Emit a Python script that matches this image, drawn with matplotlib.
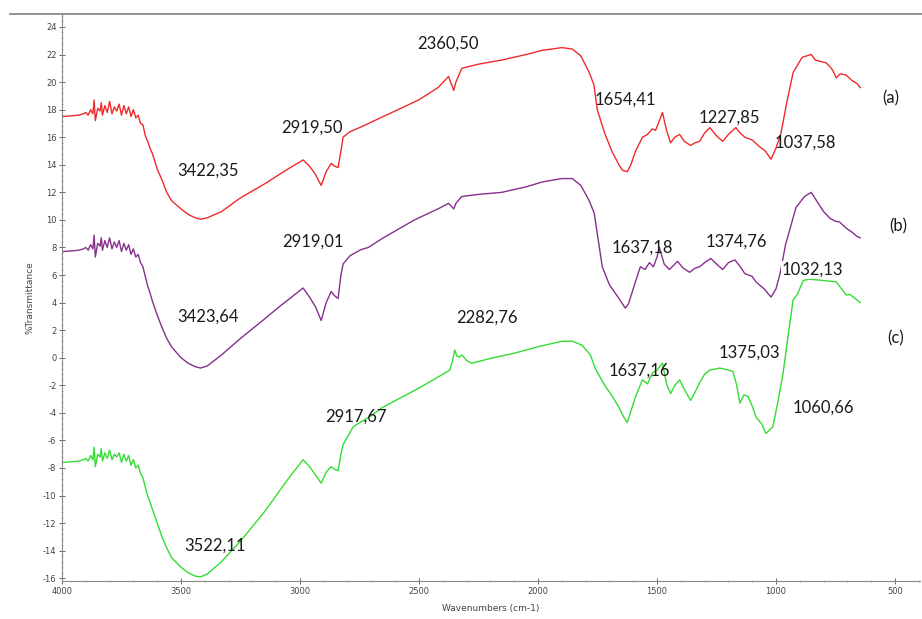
import matplotlib.pyplot as plt
from matplotlib.lines import Line2D
from matplotlib.ticker import MultipleLocator

plt.rcParams["axes.unicode_minus"] = False

# FTIR spectra, wavenumber (cm-1) -> %T
wn_a = [4000, 3960, 3930, 3910, 3900, 3890, 3880, 3870, 3865, 3860, 3850, 3840, 3835, 3830,
        3820, 3810, 3800, 3790, 3780, 3770, 3760, 3750, 3740, 3730, 3720, 3710, 3700, 3690,
        3680, 3670, 3660, 3650, 3640, 3630, 3620, 3600, 3580, 3560, 3540, 3500, 3470, 3440,
        3418, 3390, 3330, 3250, 3150, 3050, 2987, 2960, 2935, 2911, 2890, 2869, 2855, 2840,
        2828, 2819, 2790, 2743, 2650, 2502, 2420, 2376, 2365, 2354, 2345, 2320, 2250, 2152,
        2050, 1983, 1900, 1856, 1820, 1785, 1765, 1751, 1720, 1690, 1660, 1645, 1625, 1610,
        1590, 1561, 1540, 1520, 1506, 1490, 1477, 1460, 1443, 1425, 1405, 1385, 1359, 1340,
        1321, 1300, 1278, 1250, 1224, 1200, 1169, 1150, 1131, 1100, 1068, 1045, 1021, 1000,
        979, 955, 928, 890, 852, 835, 814, 790, 772, 760, 747, 730, 705, 680, 660, 646]
t_a = [17.5, 17.55, 17.6, 17.7, 17.8, 17.6, 18.0, 17.7, 18.7, 17.2, 18.1, 17.9, 18.5, 17.6,
       18.3, 17.8, 18.6, 17.7, 18.2, 17.9, 18.4, 17.6, 18.3, 17.7, 18.2, 17.5, 18.0, 17.4,
       17.6, 17.0, 16.9, 16.1, 15.7, 15.2, 14.8, 13.7, 12.9, 12.0, 11.4, 10.8, 10.4, 10.15,
       10.05, 10.15, 10.6, 11.6, 12.6, 13.7, 14.35, 13.9, 13.3, 12.5, 13.5, 14.1, 13.9, 13.8,
       15.0, 16.0, 16.4, 16.75, 17.5, 18.7, 19.6, 20.4, 19.9, 19.4, 20.0, 21.0, 21.3, 21.6,
       22.0, 22.3, 22.5, 22.4, 21.9, 20.7, 19.8, 18.0, 16.3, 15.0, 14.0, 13.6, 13.5, 14.0,
       15.0, 16.0, 16.2, 16.6, 16.5, 17.2, 17.8, 16.5, 15.6, 16.0, 16.2, 15.7, 15.4, 15.6,
       15.7, 16.3, 16.7, 16.1, 15.7, 16.2, 16.7, 16.3, 16.0, 15.8, 15.3, 15.0, 14.4, 15.2,
       16.3, 18.5, 20.7, 21.8, 22.0, 21.6, 21.5, 21.4, 21.1, 20.8, 20.3, 20.6, 20.5, 20.1, 19.9, 19.6]

wn_b = [4000, 3960, 3930, 3910, 3900, 3890, 3880, 3870, 3865, 3860, 3850, 3840, 3835, 3830,
        3820, 3810, 3800, 3790, 3780, 3770, 3760, 3750, 3740, 3730, 3720, 3710, 3700, 3690,
        3680, 3670, 3660, 3650, 3640, 3630, 3620, 3600, 3580, 3560, 3540, 3500, 3470, 3440,
        3418, 3390, 3330, 3250, 3150, 3080, 3050, 2987, 2960, 2935, 2911, 2890, 2869, 2855,
        2840, 2828, 2819, 2790, 2743, 2713, 2650, 2519, 2420, 2376, 2365, 2354, 2345, 2320,
        2250, 2152, 2050, 1983, 1900, 1856, 1820, 1785, 1764, 1751, 1730, 1700, 1660, 1645,
        1633, 1620, 1600, 1570, 1550, 1532, 1515, 1500, 1490, 1470, 1448, 1430, 1414, 1390,
        1363, 1340, 1321, 1300, 1274, 1250, 1224, 1200, 1173, 1150, 1131, 1100, 1084, 1050,
        1021, 1000, 983, 960, 916, 880, 852, 830, 800, 772, 750, 733, 705, 680, 660, 646]
t_b = [7.7, 7.75, 7.8, 7.9, 8.0, 7.8, 8.2, 7.9, 8.9, 7.3, 8.3, 8.1, 8.7, 7.8,
       8.5, 8.0, 8.7, 7.9, 8.4, 8.0, 8.5, 7.7, 8.3, 7.8, 8.2, 7.5, 7.9, 7.3,
       7.5, 6.9, 6.6, 5.9, 5.2, 4.7, 4.1, 3.1, 2.2, 1.4, 0.8, 0.0, -0.4, -0.65,
       -0.75, -0.6, 0.2, 1.4, 2.8, 3.8, 4.2, 5.06, 4.4, 3.7, 2.7, 4.0, 4.8, 4.5,
       4.3, 6.0, 6.8, 7.4, 7.85, 8.0, 8.7, 10.0, 10.8, 11.2, 11.0, 10.8, 11.2, 11.7,
       11.85, 12.0, 12.4, 12.75, 13.0, 13.0, 12.5, 11.4, 10.5, 9.0, 6.6, 5.3, 4.3, 3.9,
       3.6, 3.9, 5.0, 6.6, 6.4, 6.9, 6.6, 7.3, 8.0, 6.8, 6.4, 6.7, 7.0, 6.5,
       6.2, 6.5, 6.6, 6.9, 7.2, 6.8, 6.4, 6.9, 7.1, 6.6, 6.1, 5.9, 5.5, 5.0,
       4.4, 5.0, 6.1, 8.2, 10.9, 11.7, 12.0, 11.4, 10.6, 10.1, 9.9, 9.85, 9.4, 9.1, 8.8, 8.7]

wn_c = [4000, 3960, 3930, 3910, 3900, 3890, 3880, 3870, 3865, 3860, 3850, 3840, 3835, 3830,
        3820, 3810, 3800, 3790, 3780, 3770, 3760, 3750, 3740, 3730, 3720, 3710, 3700, 3690,
        3680, 3670, 3660, 3650, 3640, 3630, 3620, 3600, 3580, 3560, 3540, 3500, 3470, 3440,
        3418, 3390, 3330, 3250, 3150, 3050, 2987, 2960, 2935, 2911, 2890, 2869, 2855, 2840,
        2828, 2819, 2776, 2700, 2658, 2500, 2420, 2371, 2360, 2350, 2340, 2329, 2320, 2300,
        2279, 2200, 2097, 2000, 1899, 1856, 1814, 1780, 1759, 1720, 1688, 1660, 1640, 1625,
        1610, 1590, 1561, 1540, 1519, 1500, 1477, 1460, 1443, 1425, 1405, 1385, 1359, 1340,
        1321, 1300, 1278, 1236, 1200, 1181, 1165, 1152, 1135, 1118, 1100, 1084, 1060, 1042,
        1025, 1013, 990, 970, 950, 928, 910, 886, 860, 800, 747, 725, 705, 690, 675, 660, 646]
t_c = [-7.6, -7.55, -7.5, -7.4, -7.3, -7.5, -7.1, -7.4, -6.5, -7.9, -7.0, -7.2, -6.6, -7.5,
       -6.9, -7.3, -6.7, -7.4, -7.0, -7.2, -6.9, -7.6, -7.0, -7.5, -7.1, -7.8, -7.4, -8.0,
       -7.8, -8.4, -8.7, -9.4, -10.0, -10.5, -11.0, -12.0, -13.0, -13.8, -14.5, -15.2, -15.6, -15.85,
       -15.9, -15.7, -14.8, -13.3, -11.2, -8.8, -7.4, -7.9, -8.5, -9.1, -8.3, -7.9, -8.1, -8.2,
       -7.0, -6.3, -5.0, -4.2, -3.65, -2.2, -1.4, -0.9, -0.3, 0.56, 0.1, 0.05, 0.2, -0.2,
       -0.4, -0.05, 0.34, 0.8, 1.2, 1.2, 0.9, 0.2, -0.8, -2.0, -2.8, -3.6, -4.3, -4.7,
       -3.9, -2.8, -1.6, -1.9, -1.1, -0.9, -0.4, -1.9, -2.6, -2.0, -1.6, -2.3, -3.1, -2.5,
       -1.8, -1.2, -0.9, -0.75, -0.9, -1.0, -2.0, -3.3, -2.7, -2.8, -3.5, -4.3, -4.8, -5.5,
       -5.2, -5.0, -3.0, -1.1, 1.5, 4.2, 4.6, 5.6, 5.7, 5.6, 5.5, 5.0, 4.55, 4.6, 4.4, 4.2, 4.0]

peak_labels = ["3422,35", "2919,50", "2360,50", "1654,41", "1227,85", "1037,58",
               "3423,64", "2919,01", "1637,18", "1374,76", "1032,13",
               "3522,11", "2917,67", "2282,76", "1637,16", "1375,03", "1060,66"]
label_xy = [(3388, 13.6), (2949, 16.7), (2380, 22.8), (1633, 18.7), (1194, 17.4), (878, 15.6),
            (3388, 2.96), (2945, 8.4), (1561, 7.96), (1165, 8.4), (848, 6.37),
            (3359, -13.66), (2764, -4.3), (2215, 2.9), (1574, -0.9), (1110, 0.34), (802, -3.65)]
sample_tags = ["(a)", "(b)", "(c)"]
tag_xy = [(519, 18.85), (485, 9.5), (498, 1.43)]

fig = plt.figure(figsize=(9.22, 6.19), dpi=100)
ax = fig.add_axes([62 / 922, 1 - 581 / 619, 858 / 922, 567 / 619])

ax.plot(wn_a, t_a, color="#ee2b2b", lw=1.0)
ax.plot(wn_b, t_b, color="#86308f", lw=1.0)
ax.plot(wn_c, t_c, color="#33dd33", lw=1.0)

for txt, (x, y) in zip(peak_labels, label_xy):
    kw = {}
    if txt == "1032,13":
        kw["bbox"] = dict(facecolor="white", edgecolor="none", pad=0.5)
    ax.text(x, y, txt, ha="center", va="center", fontsize=12, family="Lato",
            color="#1a1a1a", **kw)
for txt, (x, y) in zip(sample_tags, tag_xy):
    ax.text(x, y, txt, ha="center", va="center", fontsize=12, family="Lato", color="#1a1a1a")

ax.set_xlim(4000, 395)
ax.set_ylim(-16.2, 24.94)
ax.xaxis.set_major_locator(MultipleLocator(500))
ax.xaxis.set_minor_locator(MultipleLocator(100))
ax.yaxis.set_major_locator(MultipleLocator(2))
ax.yaxis.set_minor_locator(MultipleLocator(0.4))
ax.tick_params(which="major", direction="inout", length=4, width=0.7, colors="#666666",
               labelsize=6, labelcolor="#444444", pad=2)
ax.tick_params(which="minor", direction="inout", length=2, width=0.5, colors="#999999")
for side in ("top", "right"):
    ax.spines[side].set_visible(False)
for side in ("left", "bottom"):
    ax.spines[side].set_color("#888888")
    ax.spines[side].set_linewidth(0.8)

ax.set_xlabel("Wavenumbers (cm-1)", fontsize=6.5, color="#444444", labelpad=6)
ax.set_ylabel("%Transmittance", fontsize=6.5, color="#444444", labelpad=6)

fig.add_artist(Line2D([10 / 922, 1], [1 - 14 / 619, 1 - 14 / 619], color="#808080", lw=1.2))

fig.savefig("out.png", dpi=100)
